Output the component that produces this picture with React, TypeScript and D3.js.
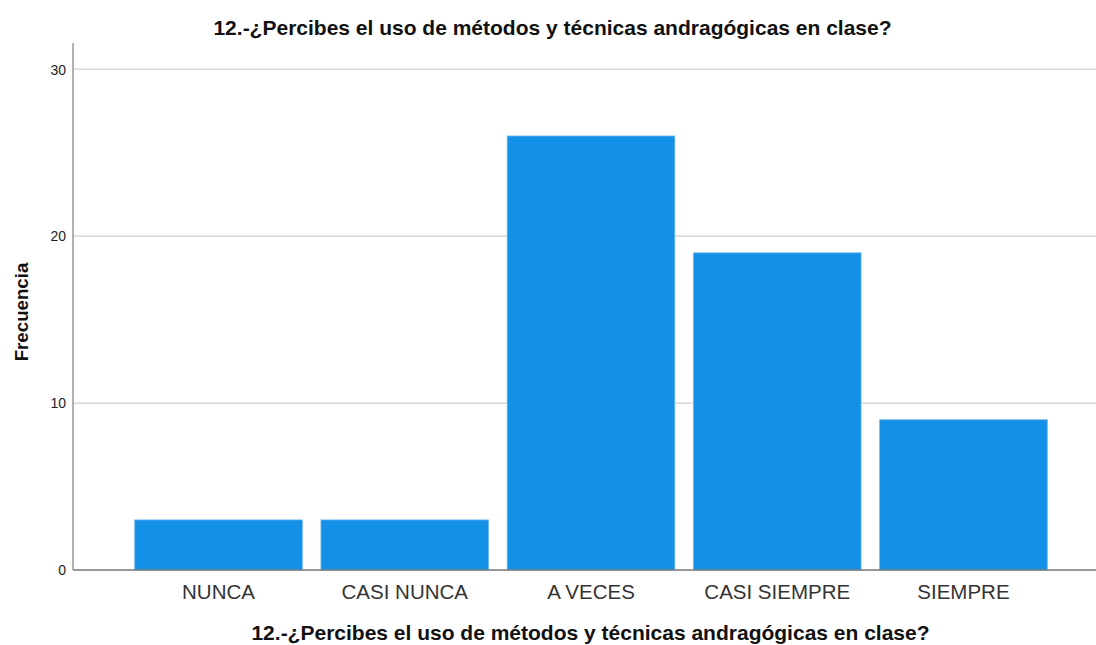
import React from "react";
import * as d3 from "d3";

const title = "12.-¿Percibes el uso de métodos y técnicas andragógicas en clase?";
const categories = ["NUNCA", "CASI NUNCA", "A VECES", "CASI SIEMPRE", "SIEMPRE"];
const frequencies = [3, 3, 26, 19, 9];
const yTicks = [0, 10, 20, 30];
const yLabel = "Frecuencia";

const W = 1096;
const H = 645;
const axisX = 73;
const font = "'Liberation Sans', Arial, sans-serif";

export default function App() {
  const x = d3
    .scaleBand<string>()
    .domain(categories)
    .range([125.4, 1056.6])
    .paddingInner(0.1)
    .paddingOuter(0.05);
  const y = d3.scaleLinear().domain([0, 31.57]).range([570, 43]);

  return (
    <svg
      width={W}
      height={H}
      style={{ position: "absolute", left: 0, top: 0, background: "#fff" }}
      fontFamily={font}
    >
      <text x={552.5} y={35} textAnchor="middle" fontSize={21} fontWeight="bold" fill="#111">
        {title}
      </text>
      {yTicks.map((t) => (
        <g key={t}>
          {t > 0 && (
            <line x1={axisX} x2={W} y1={y(t)} y2={y(t)} stroke="#cfcfcf" strokeWidth={1.3} />
          )}
          <text x={66} y={y(t)} dy="0.38em" textAnchor="end" fontSize={14} fill="#222">
            {t}
          </text>
        </g>
      ))}
      {categories.map((c, i) => (
        <g key={c}>
          <rect
            x={x(c)!}
            y={y(frequencies[i])}
            width={x.bandwidth()}
            height={y(0) - y(frequencies[i])}
            fill="#1490e6"
            stroke="#6cb8f0"
            strokeWidth={0.8}
          />
          <text
            x={x(c)! + x.bandwidth() / 2}
            y={599}
            textAnchor="middle"
            fontSize={20.5}
            fill="#333"
          >
            {c}
          </text>
        </g>
      ))}
      <line x1={axisX} x2={axisX} y1={y.range()[1]} y2={y(0)} stroke="#888" strokeWidth={1.3} />
      <line x1={axisX} x2={W} y1={y(0)} y2={y(0)} stroke="#777" strokeWidth={1.3} />
      <text x={590.5} y={640} textAnchor="middle" fontSize={21} fontWeight="bold" fill="#111">
        {title}
      </text>
      <text
        transform={`translate(28, ${312}) rotate(-90)`}
        textAnchor="middle"
        fontSize={18.7}
        fontWeight="bold"
        fill="#111"
      >
        {yLabel}
      </text>
    </svg>
  );
}
